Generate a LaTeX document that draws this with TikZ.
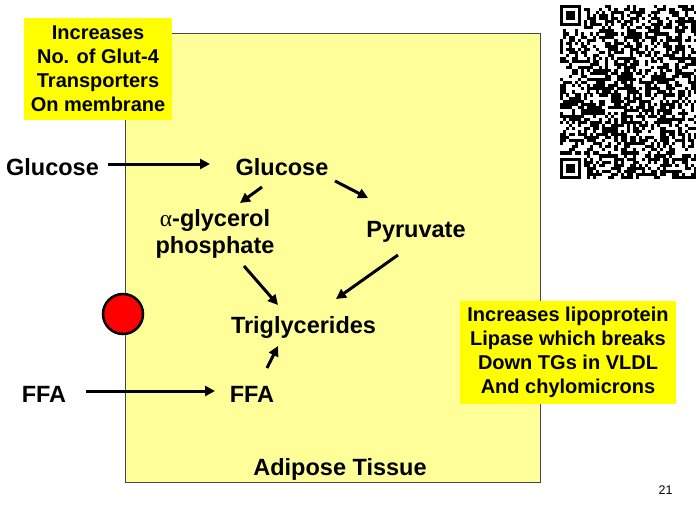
\documentclass[tikz,border=0pt]{standalone}
\usepackage{fontspec}
\setmainfont{Liberation Sans}
\newfontfamily\greekfont{Liberation Serif}
\usetikzlibrary{arrows.meta}
\definecolor{tissueyellow}{RGB}{255,255,153}
\definecolor{noteyellow}{RGB}{255,255,0}
\definecolor{rimgray}{RGB}{70,70,70}
\newcommand\chemfont{\fontsize{23.5}{27}\selectfont\bfseries}
\newcommand\notefont{\fontsize{20}{24}\selectfont\bfseries}

\begin{document}
\begin{tikzpicture}[
    x=1pt, y=-1pt,
    chem/.style={font=\chemfont, inner sep=0pt},
    note/.style={rectangle, fill=noteyellow, align=center, inner sep=0pt,
                 font=\notefont},
    arrow/.style={-{Triangle[length=10pt,width=10pt]}, line width=3pt},
    qrmod/.style={fill=black}
]
    \useasboundingbox (0,0) rectangle (696,506);
    \filldraw[fill=tissueyellow, draw=rimgray, line width=1pt] (125,33) rectangle (540,482);

    \pgfmathsetseed{21}
    \foreach \i in {0,...,44}{
        \foreach \j in {0,...,56}{
            \pgfmathtruncatemacro\qrbit{(\i<8 && (\j<8 || \j>48)) ? 0 : (rnd>0.47)}
            \ifnum\qrbit=1
                \fill[qrmod] (559.5+3.05*\i,5+3.05*\j) rectangle ++(3.1,3.1);
            \fi
        }
    }
    \foreach \fy in {5,157.5}{
        \fill[qrmod] (559.5,\fy) rectangle ++(21.35,21.35);
        \fill[white] (562.55,\fy+3.05) rectangle ++(15.25,15.25);
        \fill[qrmod] (565.6,\fy+6.1) rectangle ++(9.15,9.15);
    }

    \node[note, minimum width=148pt, minimum height=102pt] (glut) at (98,69)
        {Increases\\No. of Glut-4\\Transporters\\On membrane};
    \node[note, minimum width=216pt, minimum height=103pt] (lpl) at (568,352)
        {Increases lipoprotein\\Lipase which breaks\\Down TGs in VLDL\\And chylomicrons};

    \node[chem, anchor=base] (glcout) at (52.5,175) {Glucose};
    \node[chem, anchor=base] (glcin) at (282,175) {Glucose};
    \node[chem, align=center] (agp) at (215,233.5) {{\greekfont\mdseries α}-glycerol\\phosphate};
    \node[chem, anchor=base] (pyr) at (416,237) {Pyruvate};
    \node[chem, anchor=base] (tg) at (303.5,333) {Triglycerides};
    \node[chem, anchor=base] (ffain) at (252,402) {FFA};
    \node[chem, anchor=base] (ffaout) at (44,402) {FFA};
    \node[chem, anchor=base] (tissue) at (340,475) {Adipose Tissue};
    \node[font=\fontsize{12.5}{14}\selectfont, anchor=base] (page) at (665.5,494) {21};

    \node[circle, fill=red, draw=black, line width=2.5pt, minimum size=40pt,
          inner sep=0pt] (valve) at (123,314) {};

    \draw[arrow] ([shift={(55.5,-11)}]glcout.base) -- ([shift={(-72,-11)}]glcin.base);
    \draw[arrow] ([shift={(-20,12)}]glcin.base) -- ([shift={(25,-30.5)}]agp.center);
    \draw[arrow] ([shift={(53,6)}]glcin.base) -- ([shift={(-48,-39)}]pyr.base);
    \draw[arrow] ([shift={(29,32.5)}]agp.center) -- ([shift={(-25.5,-28)}]tg.base);
    \draw[arrow] ([shift={(-18,18)}]pyr.base) -- ([shift={(32.5,-34)}]tg.base);
    \draw[arrow] ([shift={(15,-34)}]ffain.base) -- ([shift={(-25.5,13)}]tg.base);
    \draw[arrow] ([shift={(42,-11)}]ffaout.base) -- ([shift={(-37,-11)}]ffain.base);
\end{tikzpicture}
\end{document}
